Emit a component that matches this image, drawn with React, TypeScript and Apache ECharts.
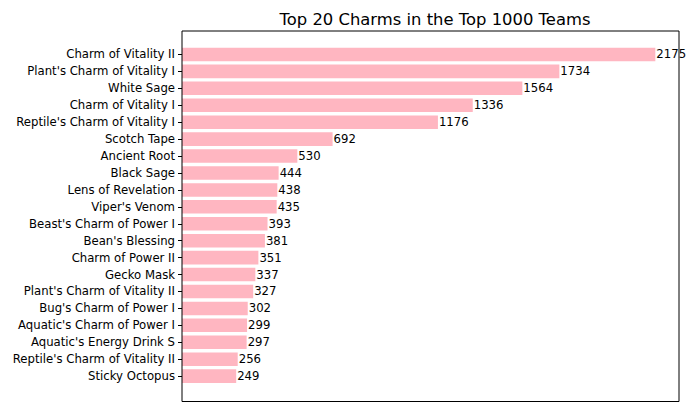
import React, { useEffect, useRef } from "react";
import * as echarts from "echarts";

const charms: string[] = [
  "Charm of Vitality II",
  "Plant's Charm of Vitality I",
  "White Sage",
  "Charm of Vitality I",
  "Reptile's Charm of Vitality I",
  "Scotch Tape",
  "Ancient Root",
  "Black Sage",
  "Lens of Revelation",
  "Viper's Venom",
  "Beast's Charm of Power I",
  "Bean's Blessing",
  "Charm of Power II",
  "Gecko Mask",
  "Plant's Charm of Vitality II",
  "Bug's Charm of Power I",
  "Aquatic's Charm of Power I",
  "Aquatic's Energy Drink S",
  "Reptile's Charm of Vitality II",
  "Sticky Octopus",
];

const counts: number[] = [
  2175, 1734, 1564, 1336, 1176, 692, 530, 444, 438, 435, 393, 381, 351, 337, 327, 302, 299, 297, 256, 249,
];

const FONT = "DejaVu Sans";

export default function App() {
  const ref = useRef<HTMLDivElement>(null);

  useEffect(() => {
    if (!ref.current) return;
    const chart = echarts.init(ref.current, null, { renderer: "svg" });
    // value axis runs from 0 to the largest count plus a 5% margin
    const maxVal = Math.max(...counts) * 1.05;
    chart.setOption({
      animation: false,
      backgroundColor: "#ffffff",
      title: {
        text: "Top 20 Charms in the Top 1000 Teams",
        left: 430,
        top: 6,
        textAlign: "center",
        textStyle: { fontFamily: FONT, fontSize: 16.4, fontWeight: "normal", color: "#000" },
      },
      grid: { left: 182, right: 15, top: 46, bottom: 26.4 },
      xAxis: {
        type: "value",
        min: 0,
        max: maxVal,
        show: false,
      },
      yAxis: {
        type: "category",
        inverse: true,
        data: charms,
        axisLine: { show: false },
        axisTick: {
          show: true,
          alignWithLabel: true,
          length: 4,
          lineStyle: { color: "#000", width: 1 },
        },
        axisLabel: {
          fontFamily: FONT,
          fontSize: 11.7,
          color: "#000",
          margin: 7,
        },
        splitLine: { show: false },
      },
      series: [
        {
          type: "bar",
          data: counts,
          barWidth: "80%",
          itemStyle: { color: "#ffb6c1" },
          label: {
            show: true,
            position: "right",
            distance: 1,
            fontFamily: FONT,
            fontSize: 11.7,
            color: "#000",
          },
        },
      ],
      graphic: [
        {
          type: "rect",
          shape: { x: 182, y: 31, width: 497, height: 370.5 },
          style: { fill: "none", stroke: "#000", lineWidth: 1 },
          z: 10,
        },
      ],
    });
    return () => chart.dispose();
  }, []);

  return (
    <div
      ref={ref}
      style={{ position: "absolute", left: 0, top: 0, width: 694, height: 411 }}
    />
  );
}
